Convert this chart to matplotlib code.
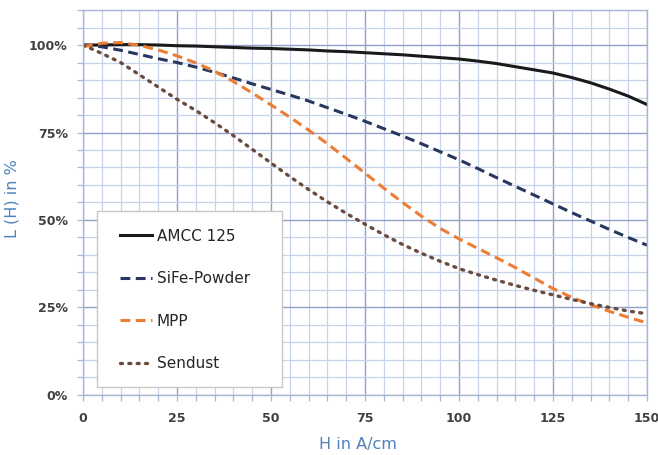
import matplotlib.pyplot as plt
from matplotlib.patches import Rectangle
from matplotlib.ticker import MultipleLocator, FuncFormatter

# field strength H in A/cm
h = [0, 5, 10, 15, 20, 25, 30, 35, 40, 45, 50, 55, 60, 65, 70, 75, 80, 85, 90, 95,
     100, 105, 110, 115, 120, 125, 130, 135, 140, 145, 150]

# inductance L(H) in % of initial value
amcc = [100, 100, 100.1, 100.1, 100, 99.8, 99.7, 99.5, 99.3, 99.1, 99, 98.8, 98.6, 98.3, 98.1, 97.8,
        97.5, 97.2, 96.8, 96.4, 96, 95.4, 94.7, 93.8, 92.9, 92, 90.7, 89.2, 87.4, 85.4, 83]
sife = [100, 99.5, 98.5, 97.3, 96.1, 95, 93.7, 92.2, 90.6, 88.9, 87.3, 85.7, 84, 82.1, 80.2, 78.2,
        76.1, 74, 71.8, 69.5, 67.2, 64.7, 62.1, 59.6, 57.1, 54.6, 52.1, 49.7, 47.3, 45, 42.8]
mpp = [99.5, 100.5, 100.7, 99.9, 98.6, 96.9, 94.9, 92.5, 89.6, 86.3, 82.9, 79.4, 75.7, 71.8, 67.6, 63.4,
       59.1, 55, 51.1, 47.6, 44.6, 41.9, 39.2, 36.4, 33.4, 30.4, 27.9, 25.8, 23.9, 22.2, 20.6]
sendust = [100, 97.6, 95, 91.5, 88, 84.5, 81.3, 77.8, 74.1, 70.2, 66.3, 62.4, 58.7, 55.2, 51.9, 48.8,
           45.8, 43, 40.5, 38.2, 36.1, 34.4, 32.8, 31.3, 29.9, 28.6, 27.3, 26.1, 25, 24, 23.2]

fig = plt.figure(figsize=(6.58, 4.55), dpi=100)
ax = fig.add_axes([0.1261, 0.1319, 0.8572, 0.8461])

ax.plot(h, amcc, color='#1a1a1a', lw=2.2, label='AMCC 125')
ax.plot(h, sife, color='#27375e', lw=2.2, ls=(0, (3.2, 1.8)), label='SiFe-Powder')
ax.plot(h, mpp, color='#ec7d32', lw=2.2, ls=(0, (3.2, 1.8)), label='MPP')
ax.plot(h, sendust, color='#6a4b3e', lw=2.4, ls=(0, (0.6, 1.9)), dash_capstyle='round', label='Sendust')

ax.set_xlim(0, 150)
ax.set_ylim(0, 110)
ax.xaxis.set_major_locator(MultipleLocator(25))
ax.xaxis.set_minor_locator(MultipleLocator(5))
ax.yaxis.set_major_locator(MultipleLocator(25))
ax.yaxis.set_minor_locator(MultipleLocator(5))
ax.yaxis.set_major_formatter(FuncFormatter(lambda v, p: '%d%%' % v if v <= 100 else ''))

ax.grid(which='minor', color='#c6d3ea', lw=0.9)
ax.grid(which='major', color='#90a2c8', lw=1.0)
ax.set_axisbelow(True)
for s in ax.spines.values():
    s.set_color('#a9b7d6')
    s.set_linewidth(1.0)

ax.tick_params(which='both', direction='out', color='#a9b7d6', length=4, width=0.9)
ax.tick_params(axis='x', which='major', pad=8)
ax.tick_params(axis='y', which='major', pad=7)
ax.tick_params(axis='both', which='major', labelsize=9, labelcolor='#404040')
for t in ax.get_xticklabels() + ax.get_yticklabels():
    t.set_fontweight('bold')

ax.set_xlabel('H in A/cm', fontsize=11.5, color='#4f81bd')
ax.set_ylabel('L (H) in %', fontsize=11.5, color='#4f81bd')
ax.xaxis.set_label_coords(0.488, -0.108)
ax.yaxis.set_label_coords(-0.112, 0.51)

# legend box drawn separately so the entries can sit where the original has them
ax.add_patch(Rectangle((0.025, 0.021), 0.328, 0.457, transform=ax.transAxes,
                       facecolor='white', edgecolor='#c8c8c8', lw=1.0, zorder=3))
leg = ax.legend(loc='upper left', bbox_to_anchor=(0.066, 0.432), frameon=False,
                fontsize=11, labelspacing=1.8, handlelength=2.1, handletextpad=0.3,
                borderpad=0, borderaxespad=0)
leg.set_zorder(4)
for t in leg.get_texts():
    t.set_color('#262626')

fig.savefig('out.png', dpi=100)
